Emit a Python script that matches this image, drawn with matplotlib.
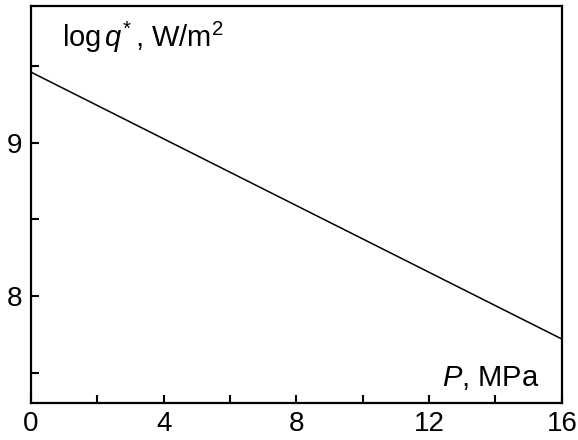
import matplotlib.pyplot as plt
import numpy as np

plt.rcParams['font.family'] = ['Liberation Sans', 'DejaVu Sans']
plt.rcParams['mathtext.fontset'] = 'custom'
plt.rcParams['mathtext.rm'] = 'Liberation Sans'
plt.rcParams['mathtext.it'] = 'Liberation Sans:italic'

pressure = [0, 16]
log_q = [9.46, 7.72]

x_ticks = [0, 4, 8, 12, 16]
y_ticks = [8, 9]

fig = plt.figure(figsize=(5.78, 4.40), dpi=100)
ax = fig.add_axes([0.0536, 0.0848, 0.9184, 0.9012])

ax.plot(pressure, log_q, color='black', linewidth=1.1)

ax.set_xlim(0, 16)
ax.set_ylim(7.305, 9.89)
ax.set_xticks(x_ticks)
ax.set_xticks(np.arange(0, 17, 2), minor=True)
ax.set_yticks(y_ticks)
ax.set_yticks([7.5, 8.5, 9.5], minor=True)

for s in ax.spines.values():
    s.set_linewidth(1.6)

ax.tick_params(which='both', direction='in', width=1.5, labelsize=20,
               top=False, right=False)
ax.tick_params(which='major', length=6, pad=6)
ax.tick_params(which='minor', length=6)

ax.text(0.058, 0.897, r'log$\,\mathit{q}^{\!*}$, W/m$^2$', transform=ax.transAxes,
        fontsize=21, ha='left', va='baseline')
ax.text(0.957, 0.042, r'$\mathit{P}$, MPa', transform=ax.transAxes,
        fontsize=21, ha='right', va='baseline')

fig.savefig('out.png', dpi=100)
